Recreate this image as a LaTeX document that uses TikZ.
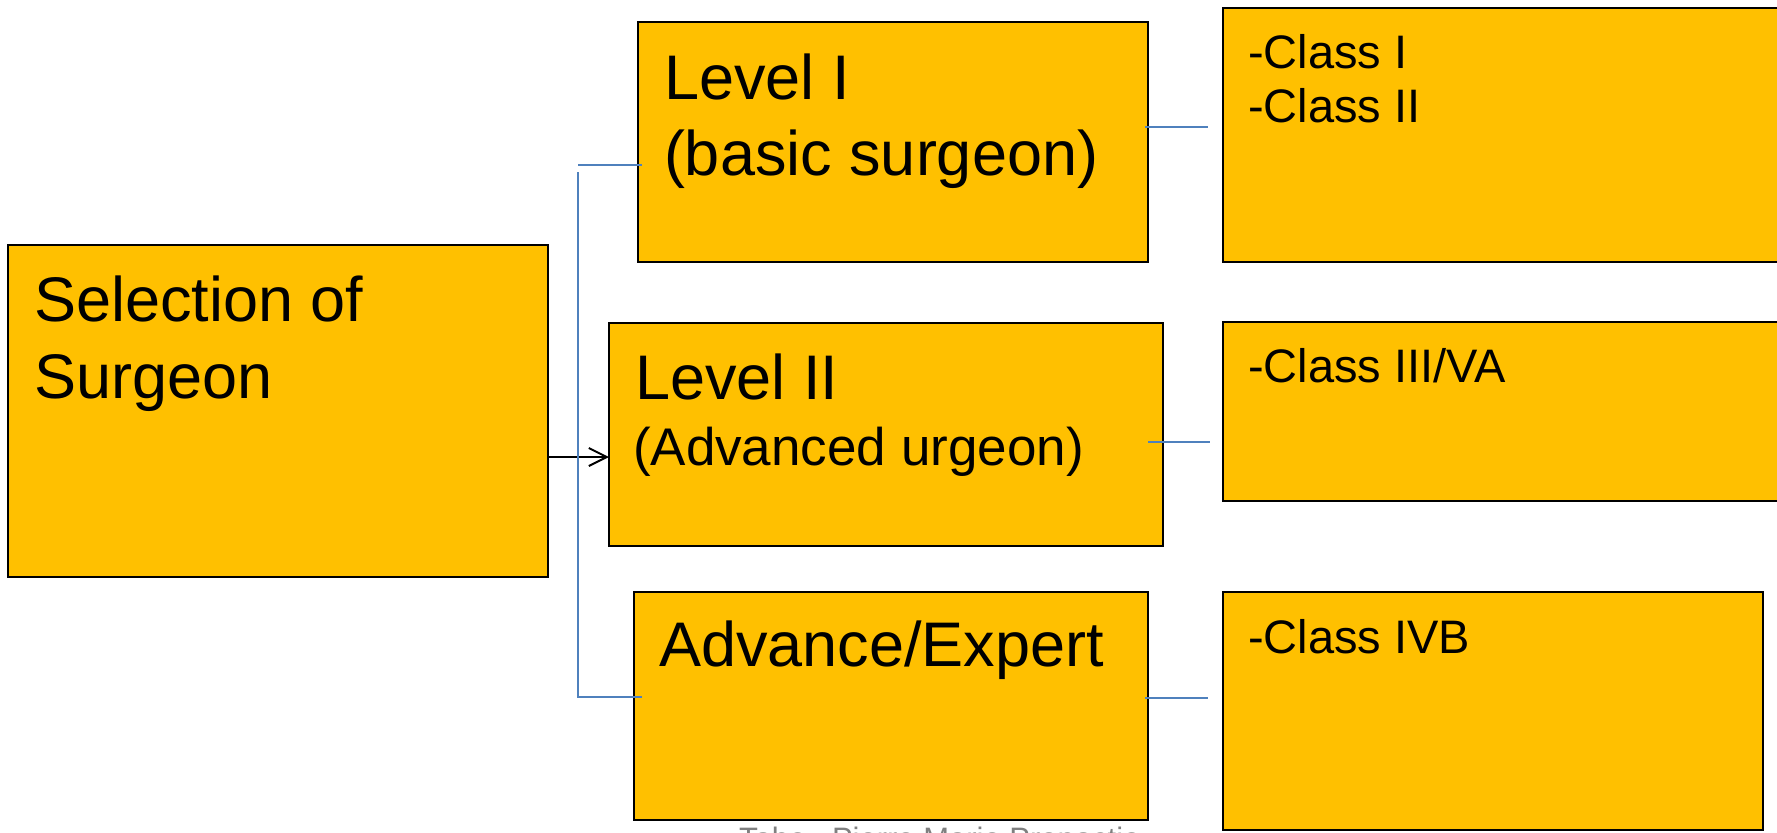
\documentclass[tikz,border=0pt]{standalone}
\usepackage{fontspec}
\setmainfont{Liberation Sans}
\usetikzlibrary{fit,arrows.meta}
\definecolor{boxfill}{HTML}{FFC000}
\definecolor{linkblue}{HTML}{4F81BD}
\definecolor{notegray}{HTML}{7F7F7F}
\begin{document}
\begin{tikzpicture}[x=0.5pt,y=-0.5pt,
  box/.style={rectangle, draw=black, line width=1.1pt, fill=boxfill, inner sep=0pt, outer sep=0pt},
  txt/.style={anchor=base west, inner sep=0pt, outer sep=0pt},
  big/.style={txt, font=\fontsize{31.5}{37}\selectfont},
  mid/.style={txt, font=\fontsize{26.5}{31}\selectfont},
  small/.style={txt, font=\fontsize{23.5}{28}\selectfont},
  link/.style={draw=linkblue, line width=1.2pt},
  arrowline/.style={draw=black, line width=1pt, -{Straight Barb[length=9pt,width=9pt,line width=1pt]}}
]
\useasboundingbox (0,0) rectangle (1777,832);
\clip (0,0) rectangle (1777,832);

% corner points of the boxes
\coordinate (selA) at (8,245);    \coordinate (selB) at (548,577);
\coordinate (lv1A) at (638,22);   \coordinate (lv1B) at (1148,262);
\coordinate (lv2A) at (609,323);  \coordinate (lv2B) at (1163,546);
\coordinate (lv3A) at (634,592);  \coordinate (lv3B) at (1148,820);
\coordinate (cl1A) at (1223,8);   \coordinate (cl1B) at (1800,262);
\coordinate (cl2A) at (1223,322); \coordinate (cl2B) at (1800,501);
\coordinate (cl3A) at (1223,592); \coordinate (cl3B) at (1763,830);

% boxes
\node[box, fit={(selA) (selB)}] (sel) {};
\node[box, fit={(lv1A) (lv1B)}] (lv1) {};
\node[box, fit={(lv2A) (lv2B)}] (lv2) {};
\node[box, fit={(lv3A) (lv3B)}] (lv3) {};
\node[box, fit={(cl1A) (cl1B)}] (cl1) {};
\node[box, fit={(cl2A) (cl2B)}] (cl2) {};
\node[box, fit={(cl3A) (cl3B)}] (cl3) {};

% box texts
\node[big] (selT1) at (34,321) {Selection of};
\node[big] (selT2) at (34,398) {Surgeon};
\node[big] (lv1T1) at (664,99) {Level I};
\node[big] (lv1T2) at (664,175) {(basic surgeon)};
\node[big] (lv2T1) at (635,399) {Level II};
\node[mid] (lv2T2) at (633,465) {(Advanced urgeon)};
\node[big] (lv3T1) at (659,666) {Advance/Expert};
\node[small] (cl1T1) at (1248,68) {-Class I};
\node[small] (cl1T2) at (1248,122) {-Class II};
\node[small] (cl2T1) at (1248,382) {-Class III/VA};
\node[small] (cl3T1) at (1248,653) {-Class IVB};

% arrow from the selection box to the levels
\coordinate (arY) at (0,457);
\draw[arrowline] (sel.east |- arY) -- (lv2.west |- arY);

% blue bracket joining the three levels
\coordinate (brTopL) at (578,165);  \coordinate (brTopR) at (642,165);
\coordinate (brVtop) at (578,172);  \coordinate (brVbot) at (578,697);
\coordinate (brBotR) at (642,697);
\draw[link] (brTopL) -- (brTopR);
\draw[link] (brVtop) -- (brVbot) -- (brBotR);

% blue links from the levels to the classes
\coordinate (k1a) at (1145,127); \coordinate (k1b) at (1208,127);
\coordinate (k2a) at (1148,442); \coordinate (k2b) at (1210,442);
\coordinate (k3a) at (1145,698); \coordinate (k3b) at (1208,698);
\draw[link] (k1a) -- (k1b);
\draw[link] (k2a) -- (k2b);
\draw[link] (k3a) -- (k3b);

% source note, cut by the lower edge
\node[txt, font=\fontsize{15.5}{18}\selectfont, text=notegray] (note) at (739,849) {Tabe , Pierre Marie Prepactie};
\end{tikzpicture}
\end{document}
